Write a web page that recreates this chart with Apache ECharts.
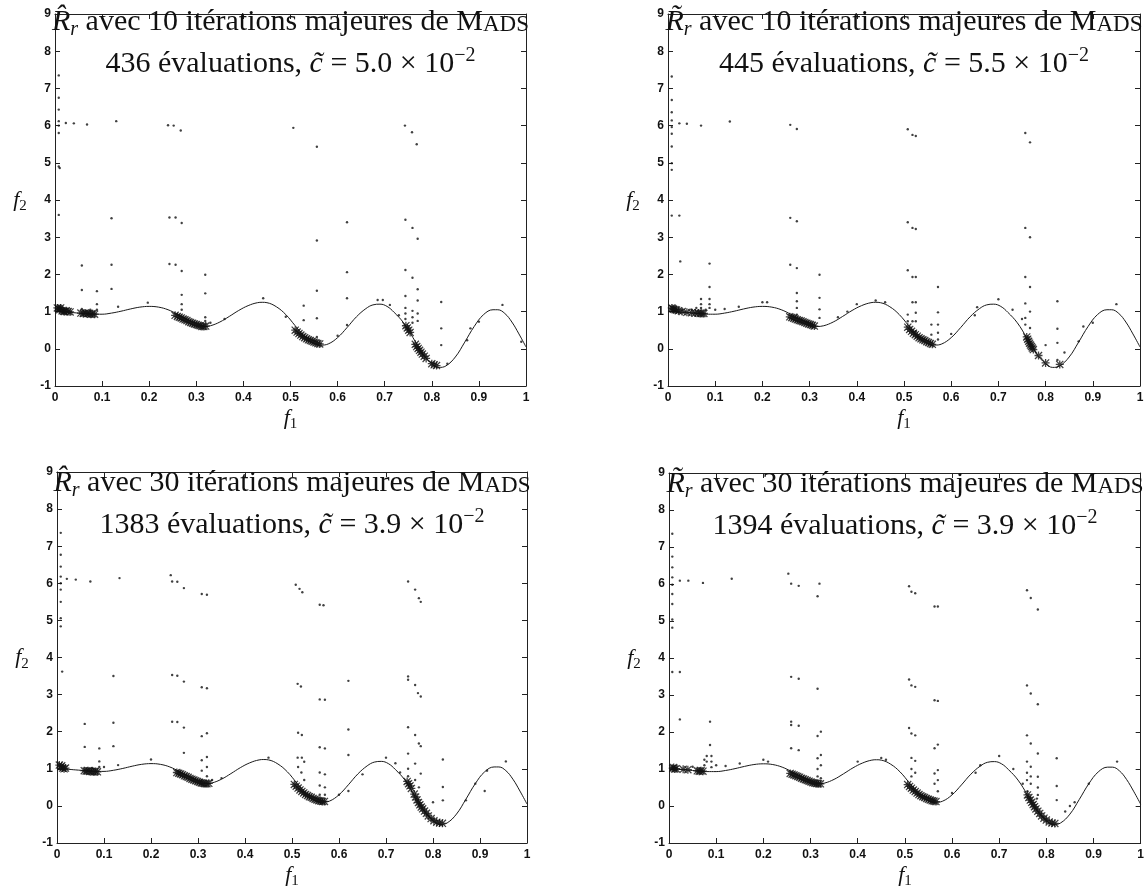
<!DOCTYPE html>
<html>
<head>
<meta charset="utf-8">
<script src="https://cdn.jsdelivr.net/npm/echarts@6/dist/echarts.min.js"></script>
<style>
  html, body { margin: 0; padding: 0; background: #fff; }
  #chart { width: 1147px; height: 893px; }
</style>
</head>
<body>
<div id="chart"></div>
<script>
// Front (f1, f2) traced as a continuous curve
const frontCurve = [
  [0,1.0],[0.02,0.99],[0.04,0.97],[0.06,0.95],[0.08,0.93],[0.1,0.93],[0.12,0.96],[0.14,1.01],
  [0.16,1.07],[0.18,1.12],[0.2,1.14],[0.22,1.12],[0.24,1.05],[0.26,0.93],[0.28,0.8],[0.3,0.66],
  [0.315,0.6],[0.33,0.62],[0.35,0.72],[0.37,0.87],[0.39,1.03],[0.41,1.16],[0.43,1.24],[0.44,1.25],
  [0.45,1.24],[0.47,1.13],[0.49,0.92],[0.51,0.62],[0.53,0.33],[0.55,0.15],[0.565,0.1],[0.58,0.13],
  [0.6,0.3],[0.62,0.57],[0.64,0.86],[0.66,1.08],[0.675,1.18],[0.69,1.2],[0.705,1.14],[0.72,0.98],
  [0.74,0.7],[0.76,0.3],[0.78,-0.12],[0.8,-0.4],[0.815,-0.5],[0.83,-0.46],[0.85,-0.22],[0.87,0.18],
  [0.89,0.6],[0.91,0.92],[0.93,1.05],[0.94,1.05],[0.955,0.95],[0.97,0.72],[0.985,0.4],[1.0,0.05]
];

// Panel headings
const titleLine1 = [
  '{R|R\u0302}{sub|r} avec 10 itérations majeures de {n|M}{sc|ADS}',
  '{R|R\u0303}{sub|r} avec 10 itérations majeures de {n|M}{sc|ADS}',
  '{R|R\u0302}{sub|r} avec 30 itérations majeures de {n|M}{sc|ADS}',
  '{R|R\u0303}{sub|r} avec 30 itérations majeures de {n|M}{sc|ADS}'
];
const titleLine2 = [
  '436 évaluations, {i|c\u0303} = 5.0 × 10{sup|\u22122}',
  '445 évaluations, {i|c\u0303} = 5.5 × 10{sup|\u22122}',
  '1383 évaluations, {i|c\u0303} = 3.9 × 10{sup|\u22122}',
  '1394 évaluations, {i|c\u0303} = 3.9 × 10{sup|\u22122}'
];

// Evaluated points, panel 1 (R-hat, 10 iterations)
const dotsA = [
  [0.008,7.35],[0.008,6.75],[0.008,6.43],[0.008,6.12],[0.008,5.8],[0.008,4.9],[0.01,4.86],[0.008,3.6],[0.008,6.0],
  [0.023,6.07],[0.04,6.06],[0.068,6.03],[0.13,6.12],[0.24,6.01],[0.252,6.0],[0.267,5.87],[0.506,5.94],[0.556,5.43],
  [0.743,6.0],[0.758,5.82],[0.768,5.5],
  [0.12,3.51],[0.243,3.53],[0.256,3.53],[0.269,3.38],[0.62,3.4],[0.744,3.47],[0.759,3.25],[0.77,2.96],[0.556,2.91],
  [0.057,2.24],[0.12,2.26],[0.243,2.28],[0.256,2.26],[0.269,2.09],[0.319,1.99],[0.62,2.06],[0.744,2.12],[0.759,1.91],[0.77,1.6],
  [0.057,1.58],[0.089,1.55],[0.12,1.61],[0.556,1.56],[0.744,1.42],
  [0.269,1.45],[0.319,1.49],[0.528,1.16],[0.62,1.36],[0.82,1.26],[0.82,0.55],[0.82,0.1],[0.759,1.02],
  [0.556,0.82],[0.556,0.32],[0.528,0.77],
  [0.134,1.13],[0.197,1.24],[0.442,1.36],[0.49,0.86],[0.62,0.64],[0.685,1.31],[0.696,1.31],[0.711,1.18],
  [0.73,0.9],[0.882,0.55],[0.875,0.23],[0.9,0.73],[0.95,1.18],[0.99,0.19],[0.833,-0.4],
  [0.744,1.1],[0.744,0.95],[0.744,0.8],[0.759,0.85],[0.759,0.7],[0.77,1.3],[0.77,0.95],[0.77,0.75],
  [0.269,1.2],[0.269,1.05],[0.319,0.85],[0.319,0.75],[0.057,1.07],[0.075,1.05],[0.089,1.2],[0.089,1.05],
  [0.33,0.7],[0.36,0.8],[0.6,0.35]
];
const starsA = [
  [0.005,1.1],[0.008,1.08],[0.01,1.05],[0.012,1.1],[0.015,1.02],[0.018,1.01],[0.02,1.0],[0.024,1.02],[0.028,1.0],[0.032,0.99],
  [0.055,0.96],[0.06,0.95],[0.064,0.96],[0.068,0.94],[0.072,0.95],[0.076,0.93],[0.08,0.94],[0.084,0.93],
  [0.255,0.9],[0.26,0.87],[0.264,0.85],[0.268,0.83],[0.272,0.8],[0.276,0.78],[0.28,0.76],[0.284,0.73],[0.288,0.71],
  [0.292,0.69],[0.296,0.67],[0.3,0.65],[0.304,0.63],[0.308,0.62],[0.312,0.6],[0.316,0.6],[0.32,0.61],
  [0.51,0.5],[0.514,0.45],[0.518,0.41],[0.522,0.37],[0.526,0.33],[0.53,0.3],[0.534,0.27],[0.538,0.24],[0.542,0.22],
  [0.546,0.2],[0.55,0.18],[0.554,0.16],[0.558,0.14],[0.562,0.13],
  [0.745,0.62],[0.748,0.56],[0.751,0.5],[0.754,0.44],[0.765,0.12],[0.768,0.06],[0.771,0.01],[0.774,-0.04],
  [0.777,-0.09],[0.78,-0.14],[0.784,-0.2],[0.788,-0.26],[0.8,-0.4],[0.805,-0.43],[0.81,-0.45]
];

// Evaluated points, panel 2 (R-tilde, 10 iterations)
const dotsB = [
  [0.008,7.32],[0.008,6.69],[0.008,6.36],[0.008,6.14],[0.008,5.96],[0.008,5.78],[0.008,5.44],[0.008,4.99],[0.008,4.81],[0.008,3.58],
  [0.024,3.58],[0.026,2.35],[0.024,6.06],[0.04,6.05],[0.07,6.0],[0.131,6.11],
  [0.088,2.29],[0.088,1.66],[0.088,1.34],[0.088,1.2],[0.088,1.1],[0.07,1.34],[0.07,1.2],[0.07,1.1],
  [0.259,6.02],[0.259,3.52],[0.259,2.26],[0.273,5.91],[0.273,3.43],[0.273,2.17],[0.273,1.5],[0.273,1.28],[0.273,1.1],[0.273,0.92],
  [0.321,1.99],[0.321,1.37],[0.321,1.06],[0.321,0.83],
  [0.508,5.9],[0.508,3.4],[0.508,2.11],[0.508,0.92],[0.508,0.74],
  [0.518,5.75],[0.518,3.25],[0.518,1.93],[0.518,1.25],[0.518,0.74],
  [0.525,5.72],[0.525,3.22],[0.525,1.93],[0.525,1.25],[0.525,0.97],[0.525,0.74],[0.525,0.47],
  [0.558,0.65],[0.558,0.38],[0.572,1.66],[0.572,0.98],[0.572,0.65],[0.572,0.43],[0.572,0.25],
  [0.757,5.8],[0.757,3.25],[0.757,1.93],[0.757,1.22],[0.757,0.83],[0.757,0.65],
  [0.767,5.55],[0.767,3.0],[0.767,1.66],[0.767,1.0],[0.767,0.56],
  [0.825,1.28],[0.825,0.54],[0.825,0.16],[0.825,-0.3],
  [0.1,1.05],[0.12,1.07],[0.15,1.13],[0.2,1.25],[0.21,1.25],[0.36,0.85],[0.38,1.0],[0.4,1.2],[0.44,1.3],[0.46,1.25],
  [0.6,0.4],[0.65,0.9],[0.655,1.12],[0.7,1.33],[0.73,1.05],[0.75,0.8],[0.8,0.1],[0.84,-0.1],[0.87,0.2],[0.88,0.6],
  [0.9,0.7],[0.95,1.2],[0.03,1.05],[0.05,1.05],[0.06,1.1],[0.08,1.05]
];
const starsB = [
  [0.008,1.1],[0.01,1.08],[0.012,1.06],[0.015,1.05],[0.018,1.04],[0.022,1.02],[0.03,1.0],[0.04,0.98],[0.05,0.97],
  [0.058,0.96],[0.064,0.96],[0.068,0.95],[0.072,0.95],[0.076,0.95],
  [0.258,0.86],[0.262,0.84],[0.266,0.82],[0.27,0.8],[0.274,0.78],[0.278,0.76],[0.282,0.75],[0.286,0.73],[0.29,0.71],
  [0.294,0.69],[0.298,0.67],[0.302,0.65],[0.306,0.63],[0.31,0.61],
  [0.508,0.58],[0.512,0.52],[0.516,0.47],[0.52,0.42],[0.524,0.38],[0.528,0.34],[0.532,0.3],[0.536,0.27],[0.54,0.24],
  [0.544,0.22],[0.548,0.19],[0.552,0.17],[0.556,0.14],[0.56,0.12],
  [0.76,0.32],[0.762,0.26],[0.764,0.2],[0.766,0.15],[0.768,0.1],[0.77,0.06],[0.772,0.02],[0.774,-0.02],
  [0.785,-0.18],[0.8,-0.38],[0.83,-0.42]
];

// Evaluated points, panel 3 (R-hat, 30 iterations)
const dotsC = [
  [0.008,7.36],[0.008,6.77],[0.008,6.45],[0.008,6.18],[0.008,6.0],[0.008,5.83],[0.008,5.5],[0.008,5.06],[0.008,4.84],[0.011,3.62],
  [0.021,6.12],[0.04,6.1],[0.071,6.05],[0.133,6.14],[0.242,6.22],[0.245,6.05],[0.256,6.04],[0.27,5.87],[0.308,5.71],[0.319,5.69],
  [0.508,5.96],[0.516,5.85],[0.522,5.76],[0.559,5.42],[0.567,5.41],[0.747,6.05],[0.762,5.83],[0.77,5.6],[0.774,5.5],
  [0.12,3.5],[0.245,3.53],[0.256,3.51],[0.27,3.35],[0.308,3.2],[0.319,3.17],[0.512,3.29],[0.519,3.22],[0.559,2.87],[0.57,2.86],
  [0.62,3.37],[0.747,3.49],[0.747,3.4],[0.762,3.26],[0.768,3.04],[0.774,2.95],
  [0.059,2.21],[0.12,2.24],[0.245,2.27],[0.256,2.26],[0.27,2.11],[0.308,1.88],[0.319,1.96],[0.513,1.97],[0.521,1.91],
  [0.559,1.58],[0.57,1.55],[0.62,2.06],[0.747,2.12],[0.762,1.91],[0.77,1.68],[0.774,1.61],
  [0.059,1.59],[0.09,1.55],[0.12,1.61],[0.27,1.43],[0.308,1.23],[0.319,1.32],[0.512,1.3],[0.521,1.3],[0.526,1.19],
  [0.62,1.37],[0.747,1.41],[0.762,1.14],[0.774,0.87],[0.821,1.25],[0.821,0.51],[0.821,0.15],
  [0.1,1.05],[0.13,1.1],[0.2,1.25],[0.33,0.7],[0.35,0.75],[0.45,1.3],[0.6,0.3],[0.62,0.4],[0.65,0.85],[0.7,1.3],
  [0.72,1.15],[0.73,0.9],[0.77,0.5],[0.8,0.1],[0.87,0.15],[0.89,0.6],[0.915,0.95],[0.955,1.2],[0.91,0.4],
  [0.559,0.9],[0.559,0.55],[0.559,0.3],[0.57,0.85],[0.57,0.5],[0.57,0.3],[0.308,0.95],[0.308,0.7],[0.319,1.05],[0.319,0.8],
  [0.52,0.9],[0.526,0.7],[0.513,1.05],[0.09,1.2],[0.09,1.05],[0.075,1.02],[0.747,1.0],[0.747,0.8],[0.762,0.7]
];
const starsC = [
  [0.005,1.1],[0.008,1.05],[0.01,1.08],[0.012,1.02],[0.015,1.0],[0.018,1.02],
  [0.058,0.95],[0.062,0.94],[0.066,0.95],[0.07,0.93],[0.074,0.93],[0.078,0.92],[0.082,0.93],[0.086,0.92],
  [0.255,0.9],[0.259,0.88],[0.263,0.86],[0.267,0.84],[0.271,0.81],[0.275,0.79],[0.279,0.77],[0.283,0.74],[0.287,0.72],
  [0.291,0.7],[0.295,0.68],[0.299,0.66],[0.303,0.64],[0.307,0.62],[0.311,0.61],[0.315,0.6],[0.319,0.6],[0.323,0.61],
  [0.505,0.58],[0.509,0.53],[0.513,0.48],[0.517,0.43],[0.521,0.39],[0.525,0.35],[0.529,0.31],[0.533,0.28],[0.537,0.25],
  [0.541,0.23],[0.545,0.2],[0.549,0.18],[0.553,0.16],[0.557,0.14],[0.561,0.13],[0.565,0.12],[0.569,0.12],
  [0.745,0.66],[0.748,0.6],[0.751,0.54],[0.754,0.47],[0.76,0.32],[0.763,0.24],[0.766,0.16],[0.769,0.09],[0.772,0.03],
  [0.775,-0.03],[0.778,-0.08],[0.782,-0.14],[0.786,-0.2],[0.79,-0.27],[0.796,-0.34],[0.802,-0.4],[0.808,-0.44],
  [0.814,-0.46],[0.82,-0.47]
];

// Evaluated points, panel 4 (R-tilde, 30 iterations)
const dotsD = [
  [0.007,7.36],[0.007,6.74],[0.007,6.45],[0.007,6.18],[0.007,5.98],[0.007,5.73],[0.007,5.46],[0.007,5.04],[0.007,4.82],[0.007,3.62],
  [0.023,3.62],[0.023,2.34],[0.023,6.09],[0.041,6.09],[0.072,6.03],[0.133,6.14],[0.087,2.28],[0.087,1.65],
  [0.253,6.28],[0.259,6.01],[0.275,5.95],[0.315,5.67],[0.319,6.01],
  [0.259,3.49],[0.259,2.28],[0.259,2.19],[0.259,1.56],[0.275,3.44],[0.275,2.17],[0.275,1.51],
  [0.315,3.17],[0.315,1.89],[0.315,1.29],[0.322,2.01],[0.322,1.38],
  [0.509,5.94],[0.509,3.42],[0.509,2.11],[0.514,5.79],[0.514,3.26],[0.514,1.96],[0.514,1.3],
  [0.522,5.75],[0.522,3.22],[0.522,1.91],[0.522,1.22],
  [0.563,5.39],[0.563,2.86],[0.563,1.56],[0.563,0.88],[0.57,5.39],[0.57,2.84],[0.57,1.66],[0.57,0.97],
  [0.759,5.83],[0.759,3.26],[0.759,1.91],[0.759,1.2],[0.767,5.62],[0.767,3.04],[0.767,1.69],[0.767,1.06],
  [0.782,5.31],[0.782,2.75],[0.782,1.42],[0.782,0.79],[0.822,1.29],[0.822,0.54],[0.822,0.16],
  [0.05,1.06],[0.08,1.2],[0.08,1.35],[0.09,1.35],[0.1,1.1],[0.12,1.08],[0.15,1.15],[0.2,1.25],[0.21,1.2],[0.4,1.2],
  [0.45,1.3],[0.46,1.25],[0.6,0.35],[0.65,0.9],[0.66,1.1],[0.7,1.35],[0.73,1.0],[0.75,0.6],[0.76,0.4],[0.78,0.2],
  [0.85,0.0],[0.86,0.1],[0.89,0.6],[0.95,1.2],[0.84,-0.15],[0.09,1.2],[0.09,1.05],[0.075,1.1],[0.075,1.25],
  [0.315,1.0],[0.315,0.8],[0.322,1.1],[0.322,0.75],[0.514,1.0],[0.514,0.8],[0.522,0.9],[0.563,0.6],[0.57,0.4],[0.57,0.7],
  [0.759,0.9],[0.759,0.7],[0.767,0.8],[0.767,0.6],[0.782,0.5],[0.782,0.3]
];
const starsD = [
  [0.008,1.02],[0.01,1.04],[0.012,1.0],[0.015,1.01],[0.03,0.99],[0.04,0.98],[0.06,0.95],[0.064,0.94],[0.068,0.95],[0.072,0.94],
  [0.257,0.88],[0.261,0.86],[0.265,0.84],[0.269,0.82],[0.273,0.8],[0.277,0.78],[0.281,0.75],[0.285,0.73],[0.289,0.71],
  [0.293,0.69],[0.297,0.67],[0.301,0.65],[0.305,0.63],[0.309,0.62],[0.313,0.61],[0.317,0.6],[0.321,0.6],
  [0.506,0.58],[0.51,0.53],[0.514,0.48],[0.518,0.43],[0.522,0.39],[0.526,0.35],[0.53,0.31],[0.534,0.28],[0.538,0.25],
  [0.542,0.23],[0.546,0.2],[0.55,0.18],[0.554,0.16],[0.558,0.14],[0.562,0.13],[0.566,0.12],
  [0.76,0.3],[0.763,0.23],[0.766,0.16],[0.769,0.1],[0.772,0.04],[0.775,-0.02],[0.778,-0.08],[0.782,-0.14],[0.786,-0.2],
  [0.79,-0.27],[0.795,-0.33],[0.8,-0.38],[0.806,-0.43],[0.812,-0.46],[0.818,-0.47]
];

const panelDots = [dotsA, dotsB, dotsC, dotsD];
const panelStars = [starsA, starsB, starsC, starsD];

// Plot rectangles (px) for the 2x2 layout
const rects = [
  { left: 55, top: 14, width: 471, height: 372 },
  { left: 668, top: 14, width: 472, height: 372 },
  { left: 57, top: 472, width: 470, height: 371 },
  { left: 669, top: 473, width: 472, height: 370 }
];

const asterisk = 'path://M4.2,0L5.8,0L5.8,10L4.2,10Z M0,4.2L10,4.2L10,5.8L0,5.8Z M1.1,0L10,8.9L8.9,10L0,1.1Z M8.9,0L10,1.1L1.1,10L0,8.9Z';
const serif = '"Liberation Serif", "DejaVu Serif", serif';
const ink = '#111';

const grid = [], xAxis = [], yAxis = [], series = [], graphic = [];

rects.forEach((r, k) => {
  grid.push(Object.assign({ containLabel: false }, r));
  const tick = { show: true, inside: true, length: 5, lineStyle: { color: '#222', width: 1 } };
  const line = { show: true, onZero: false, lineStyle: { color: '#222', width: 1 } };
  const lbl = { fontFamily: '"Liberation Sans", Arial, sans-serif', fontWeight: 'bold', fontSize: 12, color: ink };
  xAxis.push({ gridIndex: k, type: 'value', min: 0, max: 1, interval: 0.1, position: 'bottom',
    axisLine: line, axisTick: tick, splitLine: { show: false },
    axisLabel: Object.assign({ margin: 6, showMinLabel: true, showMaxLabel: true }, lbl) });
  xAxis.push({ gridIndex: k, type: 'value', min: 0, max: 1, interval: 0.1, position: 'top',
    axisLine: line, axisTick: tick, splitLine: { show: false }, axisLabel: { show: false } });
  yAxis.push({ gridIndex: k, type: 'value', min: -1, max: 9, interval: 1, position: 'left',
    axisLine: line, axisTick: tick, splitLine: { show: false },
    axisLabel: Object.assign({ margin: 4 }, lbl) });
  yAxis.push({ gridIndex: k, type: 'value', min: -1, max: 9, interval: 1, position: 'right',
    axisLine: line, axisTick: tick, splitLine: { show: false }, axisLabel: { show: false } });

  const xi = k * 2, yi = k * 2;
  series.push({ type: 'line', xAxisIndex: xi, yAxisIndex: yi, data: frontCurve, smooth: 0.4,
    showSymbol: false, lineStyle: { color: '#1a1a1a', width: 1 }, silent: true, z: 2 });
  series.push({ type: 'scatter', xAxisIndex: xi, yAxisIndex: yi, data: panelStars[k],
    symbol: asterisk, symbolSize: 8, itemStyle: { color: ink }, silent: true, z: 3 });
  series.push({ type: 'scatter', xAxisIndex: xi, yAxisIndex: yi, data: panelDots[k],
    symbol: 'circle', symbolSize: 2.4, itemStyle: { color: ink }, silent: true, z: 3 });

  const cx = r.left + r.width / 2;
  const fs = 30;
  const dy = k >= 2 ? 3 : 0;
  graphic.push({ type: 'text', x: cx, y: r.top + 8 + dy, z: 10, style: {
    text: titleLine1[k], fill: ink, fontFamily: serif, fontSize: fs, align: 'center', verticalAlign: 'middle',
    rich: {
      R: { fontFamily: serif, fontStyle: 'italic', fontSize: fs, lineHeight: 36, fill: ink },
      sub: { fontFamily: serif, fontStyle: 'italic', fontSize: 20, lineHeight: 22, verticalAlign: 'bottom', fill: ink },
      n: { fontFamily: serif, fontSize: fs, lineHeight: 36, fill: ink },
      sc: { fontFamily: serif, fontSize: 23, lineHeight: 36, padding: [5, 0, 0, 0], fill: ink }
    } } });
  graphic.push({ type: 'text', x: cx, y: r.top + 50 + dy, z: 10, style: {
    text: titleLine2[k], fill: ink, fontFamily: serif, fontSize: fs, align: 'center', verticalAlign: 'middle',
    rich: {
      i: { fontFamily: serif, fontStyle: 'italic', fontSize: fs, lineHeight: 36, fill: ink },
      sup: { fontFamily: serif, fontSize: 20, lineHeight: 22, verticalAlign: 'top', fill: ink }
    } } });

  // axis names f1 / f2
  const nameRich = {
    f: { fontFamily: serif, fontStyle: 'italic', fontSize: 22, lineHeight: 28, fill: ink },
    s: { fontFamily: serif, fontSize: 15, lineHeight: 18, verticalAlign: 'bottom', fill: ink }
  };
  graphic.push({ type: 'text', x: r.left + r.width / 2, y: r.top + r.height + 32, z: 10, style: {
    text: '{f|f}{s|1}', align: 'center', verticalAlign: 'middle', rich: nameRich } });
  graphic.push({ type: 'text', x: r.left - 35, y: r.top + r.height * 0.5, z: 10, style: {
    text: '{f|f}{s|2}', align: 'center', verticalAlign: 'middle', rich: nameRich } });
});

const chart = echarts.init(document.getElementById('chart'), null, { renderer: 'canvas' });
chart.setOption({
  animation: false,
  backgroundColor: '#fff',
  grid, xAxis, yAxis, series, graphic
});
</script>
</body>
</html>
